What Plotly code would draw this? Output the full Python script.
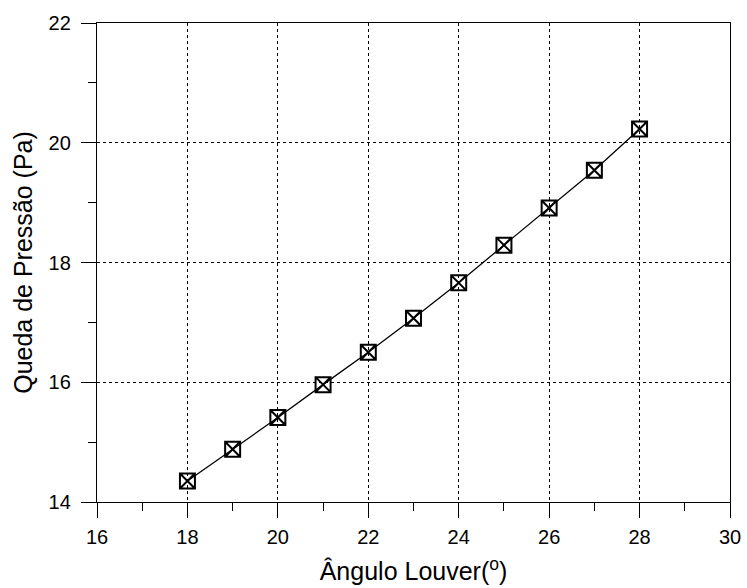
import plotly.graph_objects as go

# Louver angle (degrees) and pressure drop (Pa)
angulo = [18, 19, 20, 21, 22, 23, 24, 25, 26, 27, 28]
queda = [14.35, 14.88, 15.41, 15.96, 16.50, 17.07, 17.66, 18.29, 18.91, 19.54, 20.23]

x_ticks = [16, 18, 20, 22, 24, 26, 28, 30]
y_ticks = [14, 16, 18, 20, 22]

fig = go.Figure()
fig.add_trace(go.Scatter(
    x=angulo, y=queda,
    mode="lines+markers",
    line=dict(color="black", width=1.3),
    marker=dict(symbol="square-x-open", size=15, color="black",
                line=dict(color="black", width=2)),
    showlegend=False,
))

font = dict(family="Liberation Sans, Arial, sans-serif", color="black")

axis_common = dict(
    showline=True, linecolor="black", linewidth=1.3, mirror=True,
    ticks="outside", ticklen=15, tickwidth=1, tickcolor="black",
    showgrid=True, gridcolor="black", gridwidth=1, griddash="dot",
    zeroline=False, automargin=False,
    tickfont=dict(size=20, **font),
)

fig.update_xaxes(
    range=[16, 30], tickvals=x_ticks, ticktext=[str(v) for v in x_ticks],
    ticklabelstandoff=2,
    minor=dict(dtick=1, tick0=16, ticks="outside", ticklen=8, tickcolor="black", showgrid=False),
    title=dict(text="Ângulo Louver(<sup>o</sup>)", font=dict(size=25, **font), standoff=15),
    **axis_common,
)
fig.update_yaxes(
    range=[14, 22], tickvals=y_ticks, ticktext=[str(v) for v in y_ticks],
    ticklabelstandoff=6,
    minor=dict(dtick=1, tick0=14, ticks="outside", ticklen=8, tickcolor="black", showgrid=False),
    title=dict(text="Queda de Pressão (Pa)", font=dict(size=25, **font), standoff=8),
    **axis_common,
)

fig.update_layout(
    width=747, height=588,
    margin=dict(l=97, r=17, t=23, b=86),
    plot_bgcolor="white", paper_bgcolor="white",
    font=font,
)

fig.write_html("out.html")
